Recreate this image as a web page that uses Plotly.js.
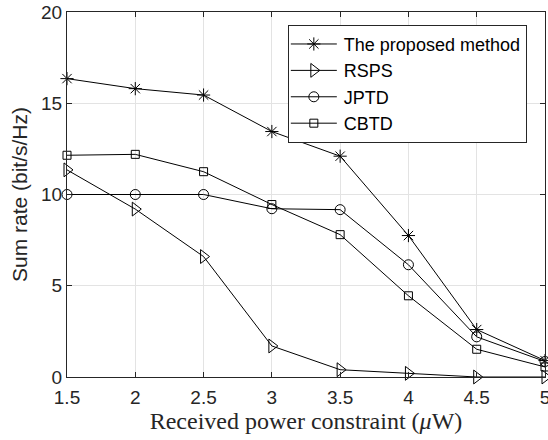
<!DOCTYPE html>
<html><head><meta charset="utf-8">
<script src="https://cdn.plot.ly/plotly-3.0.1.min.js"></script>
<style>html,body{margin:0;padding:0;background:#fff}#chart{width:548px;height:440px}</style>
</head><body><div id="chart"></div>
<script>
const power = [1.5, 2, 2.5, 3, 3.5, 4, 4.5, 5];
const proposed = [16.35, 15.8, 15.45, 13.45, 12.1, 7.75, 2.6, 0.9];
const rsps = [11.35, 9.2, 6.6, 1.7, 0.4, 0.2, 0.0, 0.0];
const jptd = [10.0, 10.0, 10.0, 9.22, 9.17, 6.15, 2.2, 0.85];
const cbtd = [12.15, 12.2, 11.25, 9.45, 7.8, 4.45, 1.52, 0.55];
const names = ['The proposed method', 'RSPS', 'JPTD', 'CBTD'];
const xTicks = [1.5, 2, 2.5, 3, 3.5, 4, 4.5, 5];
const xTickText = ['1.5', '2', '2.5', '3', '3.5', '4', '4.5', '5'];
const yTicks = [0, 5, 10, 15, 20];

const series = [proposed, rsps, jptd, cbtd];
const symbols = ['asterisk-open', 'triangle-right-open', 'circle-open', 'square-open'];
const sizes = [11, 12, 10, 8];
const traces = series.map((y, i) => ({
  x: power, y: y, name: names[i], type: 'scatter', mode: 'lines+markers',
  line: {color: '#000', width: 1},
  marker: {symbol: symbols[i], size: sizes[i], color: '#000', line: {color: '#000', width: 1}},
  cliponaxis: false
}));

const layout = {
  width: 548, height: 440,
  margin: {l: 67, r: 3, t: 12, b: 63},
  paper_bgcolor: '#fff', plot_bgcolor: '#fff',
  font: {family: 'Liberation Sans, Arial, sans-serif', color: '#262626'},
  showlegend: true,
  legend: {x: 0.462, y: 0.965, xanchor: 'left', yanchor: 'top',
    bgcolor: '#fff', bordercolor: '#262626', borderwidth: 1,
    font: {size: 18, color: '#000'}, tracegroupgap: 0, itemwidth: 45},
  xaxis: {range: [1.5, 5], tickvals: xTicks, ticktext: xTickText,
    showgrid: true, gridcolor: '#e3e3e3', gridwidth: 1,
    showline: true, linecolor: '#262626', linewidth: 1, mirror: 'ticks',
    ticks: 'inside', ticklen: 5, tickcolor: '#262626', ticklabeloverflow: 'allow',
    ticklabelstandoff: 3,
    tickfont: {size: 19, color: '#262626'}, zeroline: false,
    title: {text: 'Received power constraint (<i>μ</i>W)', font: {family: 'Liberation Serif, DejaVu Serif, serif', size: 24, color: '#262626'}, standoff: 0}},
  yaxis: {range: [0, 20], tickvals: yTicks,
    showgrid: true, gridcolor: '#e3e3e3', gridwidth: 1,
    showline: true, linecolor: '#262626', linewidth: 1, mirror: 'ticks',
    ticks: 'inside', ticklen: 5, tickcolor: '#262626',
    tickfont: {size: 19, color: '#262626'}, zeroline: false,
    title: {text: 'Sum rate (bit/s/Hz)', font: {size: 21, color: '#262626'}, standoff: 7}}
};
Plotly.newPlot('chart', traces, layout, {displayModeBar: false, staticPlot: true}).then(() => {
  document.querySelectorAll('.legend .legendlines path').forEach(p => {
    p.setAttribute('d', 'M2,0h46');
  });
  document.querySelectorAll('.legend .legendpoints path').forEach(p => {
    const t = p.getAttribute('transform') || '';
    p.setAttribute('transform', t.replace(/translate\(([-\d.]+),/, 'translate(25,'));
  });
});
</script></body></html>
